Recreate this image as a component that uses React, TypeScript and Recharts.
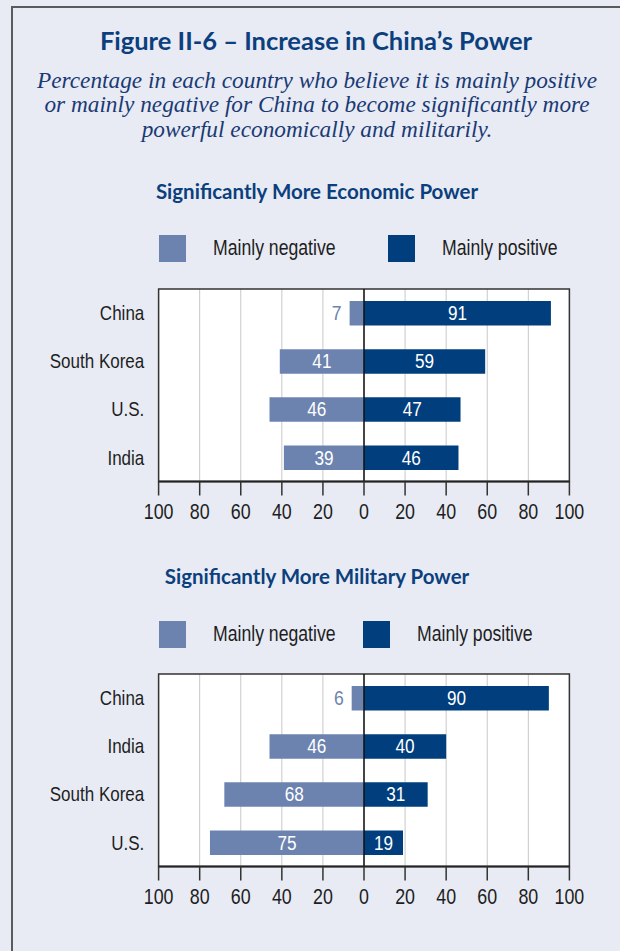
import React from 'react';
import {
  BarChart, Bar, XAxis, YAxis, CartesianGrid, ReferenceLine, ReferenceArea, LabelList,
} from 'recharts';

const economicCountries = ['China', 'South Korea', 'U.S.', 'India'];
const economicNegative = [7, 41, 46, 39];
const economicPositive = [91, 59, 47, 46];

const militaryCountries = ['China', 'India', 'South Korea', 'U.S.'];
const militaryNegative = [6, 46, 68, 75];
const militaryPositive = [90, 40, 31, 19];

const axisTicks = [-100, -80, -60, -40, -20, 0, 20, 40, 60, 80, 100];
const seriesNames = ['Mainly negative', 'Mainly positive'];

const NEG = '#6c83b0';
const POS = '#013e7d';
const SANS = '"Liberation Sans", Arial, sans-serif';
const HEAD = 'Lato, "Open Sans", sans-serif';

const buildRows = (countries: string[], neg: number[], pos: number[]) =>
  countries.map((c, i) => ({ country: c, negative: -neg[i], positive: pos[i] }));

const economicRows = buildRows(economicCountries, economicNegative, economicPositive);
const militaryRows = buildRows(militaryCountries, militaryNegative, militaryPositive);

function NarrowText({ x, y, anchor, size, color, sx, children }: any) {
  return (
    <text transform={`translate(${x},${y}) scale(${sx},1)`} x={0} y={0}
      textAnchor={anchor} dominantBaseline="central" fill={color}
      fontSize={size} fontFamily={SANS}>{children}</text>
  );
}

const ValueLabel = (color: string) => (props: any) => {
  const { x, y, width, height, value } = props;
  const v = Math.abs(value);
  const left = Math.min(x, x + width);
  const w = Math.abs(width);
  const cy = y + height / 2;
  if (v < 10) {
    return <NarrowText x={left - 8} y={cy} anchor="end" size={19.5} color={color} sx={0.9}>{v}</NarrowText>;
  }
  return <NarrowText x={left + w / 2} y={cy} anchor="middle" size={19.5} color="#fff" sx={0.88}>{v}</NarrowText>;
};

const XTick = (props: any) => {
  const { x, y, payload } = props;
  return <NarrowText x={x} y={y + 16} anchor="middle" size={21.5} color="#1e1e1e" sx={0.83}>{Math.abs(payload.value)}</NarrowText>;
};

const YTick = (props: any) => {
  const { x, y, payload } = props;
  return <NarrowText x={x} y={y} anchor="end" size={20.5} color="#1e1e1e" sx={0.83}>{payload.value}</NarrowText>;
};

function Legend({ top, posX }: { top: number; posX: number }) {
  const items = [
    { name: seriesNames[0], color: NEG, x: 158.6 },
    { name: seriesNames[1], color: POS, x: posX },
  ];
  return (
    <>
      {items.map((it) => (
        <div key={it.name} style={{ position: 'absolute', left: it.x, top, height: 27, display: 'flex', alignItems: 'center' }}>
          <div style={{ width: 27, height: 27, background: it.color, flex: 'none' }} />
          <div style={{ marginLeft: 27, fontFamily: SANS, fontSize: 21.5, color: '#1e1e1e', whiteSpace: 'nowrap', transform: 'scaleX(0.82)', transformOrigin: 'left center' }}>{it.name}</div>
        </div>
      ))}
    </>
  );
}

function Panel({ rows, top }: { rows: any[]; top: number }) {
  return (
    <div style={{ position: 'absolute', left: 0, top }}>
      <BarChart width={620} height={262} data={rows} layout="vertical" stackOffset="sign"
        margin={{ top: 19, right: 50.6, bottom: 0, left: 0 }}>
        <CartesianGrid horizontal={false} vertical stroke="#c8c8c8" fill="#ffffff" />
        <XAxis type="number" domain={[-100, 100]} ticks={axisTicks} allowDataOverflow
          height={50.5} tickSize={14} tickMargin={0}
          axisLine={{ stroke: '#222', strokeWidth: 2 }}
          tickLine={{ stroke: '#333', strokeWidth: 1.5 }}
          tick={<XTick />} />
        <YAxis type="category" dataKey="country" width={158.6}
          axisLine={false} tickLine={false} tickSize={0} tickMargin={14.3}
          tick={<YTick />} />
        <Bar dataKey="negative" stackId="a" fill={NEG} barSize={24.5} isAnimationActive={false}>
          <LabelList dataKey="negative" content={ValueLabel(NEG)} />
        </Bar>
        <Bar dataKey="positive" stackId="a" fill={POS} barSize={24.5} isAnimationActive={false}>
          <LabelList dataKey="positive" content={ValueLabel(POS)} />
        </Bar>
        <ReferenceArea x1={-100} x2={100} fill="none" stroke="#333" strokeWidth={1.5} ifOverflow="visible" />
        <ReferenceLine x={0} stroke="#111" strokeWidth={1.5} />
      </BarChart>
    </div>
  );
}

export default function App() {
  return (
    <div style={{ position: 'absolute', left: 0, top: 0, width: 620, height: 951, background: '#e8ebf4', overflow: 'hidden' }}>
      <div style={{ position: 'absolute', left: 11, top: 6, right: -5, bottom: -5, borderTop: '2px solid #5a5a5a', borderLeft: '2px solid #5a5a5a' }} />
      <div style={{ position: 'absolute', left: 0, width: 632, top: 24, textAlign: 'center', fontFamily: HEAD, fontWeight: 700, fontSize: 25.5, color: '#0b3f7d', lineHeight: '32px' }}>
        Figure II-6 – Increase in China’s Power
      </div>
      <div style={{ position: 'absolute', left: 0, width: 634, top: 67.5, textAlign: 'center', fontFamily: '"Liberation Serif", serif', fontStyle: 'italic', fontSize: 23.3, color: '#1a3a74', lineHeight: '24.5px' }}>
        Percentage in each country who believe it is mainly positive<br />
        or mainly negative for China to become significantly more<br />
        powerful economically and militarily.
      </div>
      <div style={{ position: 'absolute', left: 0, width: 634, top: 178.5, textAlign: 'center', fontFamily: HEAD, fontWeight: 700, fontSize: 20.5, color: '#0b3f7d', lineHeight: '24px' }}>
        Significantly More Economic Power
      </div>
      <Legend top={234.5} posX={388} />
      <Panel rows={economicRows} top={270} />
      <div style={{ position: 'absolute', left: 0, width: 634, top: 564, textAlign: 'center', fontFamily: HEAD, fontWeight: 700, fontSize: 20.5, color: '#0b3f7d', lineHeight: '24px' }}>
        Significantly More Military Power
      </div>
      <Legend top={620.5} posX={363} />
      <Panel rows={militaryRows} top={655.3} />
    </div>
  );
}
